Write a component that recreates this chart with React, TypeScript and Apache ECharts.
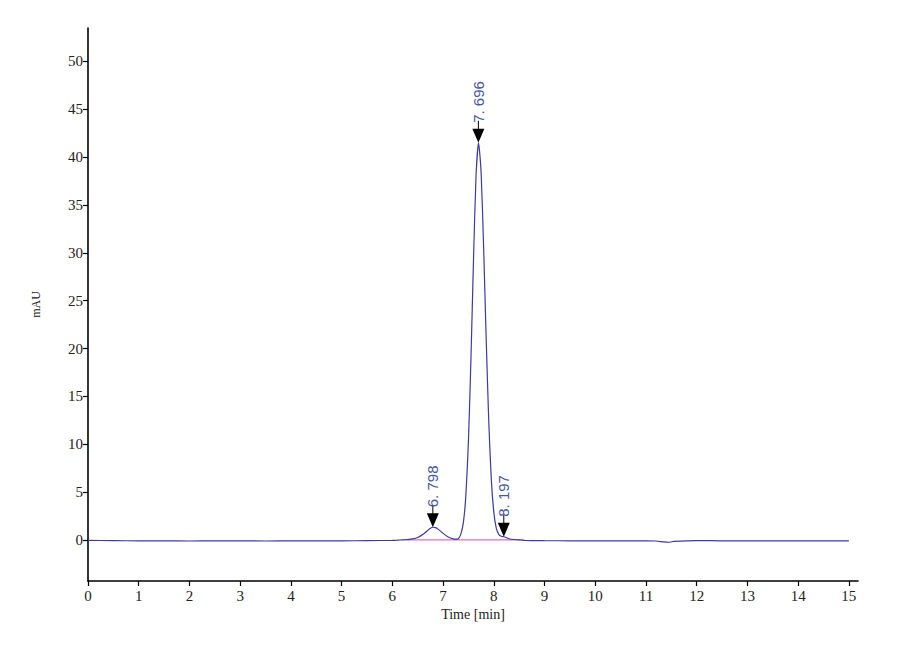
import React, { useEffect, useRef } from "react";
import * as echarts from "echarts";

const times = [
  0, 0.5, 1, 1.5, 2, 2.5, 3, 3.5, 4, 4.5, 5, 5.5, 6,
  6.1, 6.2, 6.3, 6.4, 6.5, 6.6, 6.7, 6.75, 6.8, 6.85, 6.9, 7.0, 7.1, 7.2,
  7.25, 7.3, 7.35, 7.4, 7.45, 7.5, 7.55, 7.6, 7.65, 7.7, 7.75, 7.8, 7.85,
  7.9, 7.95, 8.0, 8.05, 8.1, 8.15, 8.2, 8.25, 8.3, 8.4, 8.5, 8.6, 9.0,
  9.5, 10, 10.5, 11, 11.2, 11.35, 11.45, 11.55, 11.8, 12, 12.5, 13, 13.5,
  14, 14.5, 15,
];
const signal = [
  -0.05, -0.08, -0.1, -0.1, -0.12, -0.1, -0.1, -0.12, -0.1, -0.1, -0.1, -0.08, -0.05,
  -0.03, 0.0, 0.03, 0.1, 0.25, 0.55, 1.0, 1.22, 1.32, 1.28, 1.12, 0.68, 0.3, 0.1,
  0.07, 0.12, 0.6, 1.8, 4.7, 10.3, 19.0, 29.3, 38.1, 41.5, 38.4, 30.5, 21.0,
  12.5, 6.4, 2.9, 1.2, 0.55, 0.38, 0.32, 0.22, 0.12, 0.04, 0.0, -0.05, -0.08,
  -0.1, -0.1, -0.1, -0.1, -0.12, -0.22, -0.25, -0.15, -0.1, -0.08, -0.1, -0.1, -0.1,
  -0.1, -0.1, -0.1,
];

const baselineTimes = [6.3, 8.6];
const baselineValues = [0, 0];

const peakTimes = [6.798, 7.696, 8.197];
const peakHeights = [1.32, 41.5, 0.32];
const peakLabels = ["6. 798", "7. 696", "8. 197"];

const xTicks = [0, 1, 2, 3, 4, 5, 6, 7, 8, 9, 10, 11, 12, 13, 14, 15];
const yTicks = [0, 5, 10, 15, 20, 25, 30, 35, 40, 45, 50];

const arrowPath =
  "path://M5.5,0 L6.5,0 L6.5,8 L12,8 L6,22 L0,8 L5.5,8 Z";

export default function App() {
  const ref = useRef<HTMLDivElement>(null);

  useEffect(() => {
    if (!ref.current) return;
    const chart = echarts.init(ref.current, undefined, { renderer: "svg" });
    const axisFont = "'Liberation Serif', 'DejaVu Serif', serif";
    chart.setOption({
      animation: false,
      backgroundColor: "#ffffff",
      grid: { left: 88, right: 42, top: 28, bottom: 79, containLabel: false },
      xAxis: {
        type: "value",
        min: 0,
        max: 15.18,
        name: "Time [min]",
        nameLocation: "middle",
        nameGap: 25,
        nameTextStyle: { fontFamily: axisFont, fontSize: 14, color: "#222" },
        axisLine: { show: true, onZero: false, lineStyle: { color: "#000", width: 1.6 } },
        axisTick: { show: true, length: 5, customValues: xTicks, lineStyle: { color: "#000", width: 1.2 } },
        axisLabel: { customValues: xTicks, margin: 7, fontFamily: axisFont, fontSize: 15, color: "#222" },
        splitLine: { show: false },
      },
      yAxis: {
        type: "value",
        min: -4.3,
        max: 53.5,
        name: "mAU",
        nameLocation: "middle",
        nameGap: 46,
        nameRotate: 90,
        nameTextStyle: { fontFamily: axisFont, fontSize: 12, color: "#222" },
        axisLine: { show: true, onZero: false, lineStyle: { color: "#000", width: 1.6 } },
        axisTick: { show: true, length: 5, customValues: yTicks, lineStyle: { color: "#000", width: 1.2 } },
        axisLabel: { customValues: yTicks, margin: 5, fontFamily: axisFont, fontSize: 15, color: "#222" },
        splitLine: { show: false },
      },
      series: [
        {
          type: "line",
          data: baselineTimes.map((t, i) => [t, baselineValues[i]]),
          symbol: "none",
          lineStyle: { color: "#e070c0", width: 1.2 },
          z: 1,
          silent: true,
        },
        {
          type: "line",
          data: times.map((t, i) => [t, signal[i]]),
          symbol: "none",
          smooth: 0.2,
          lineStyle: { color: "#3a3aa8", width: 1.2 },
          z: 2,
          markPoint: {
            symbol: arrowPath,
            symbolSize: [12, 22],
            symbolOffset: [0, "-50%"],
            itemStyle: { color: "#000" },
            label: {
              show: true,
              position: "top",
              distance: -2,
              rotate: 90,
              align: "left",
              verticalAlign: "middle",
              fontFamily: "'Liberation Sans', Arial, sans-serif",
              fontSize: 15,
              color: "#4455a8",
              formatter: (p: any) => p.name,
            },
            data: peakTimes.map((t, i) => ({
              name: peakLabels[i],
              coord: [t, peakHeights[i]],
            })),
          },
        },
      ],
    });
    return () => chart.dispose();
  }, []);

  return <div ref={ref} style={{ width: 900, height: 660, margin: -8 }} />;
}
